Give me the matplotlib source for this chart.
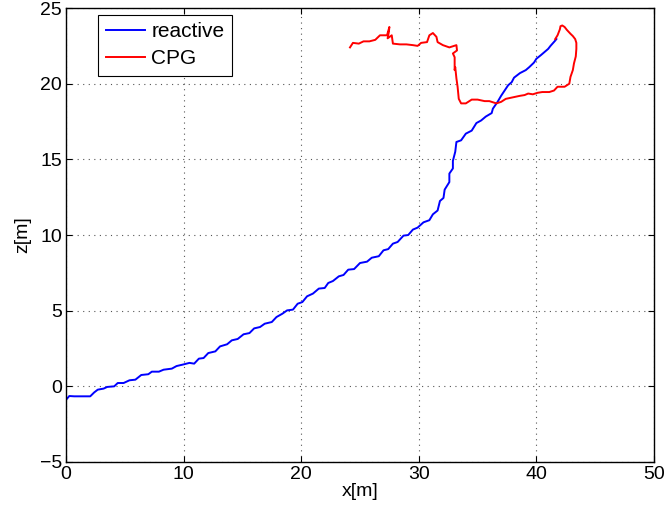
import matplotlib
matplotlib.use("Agg")
import matplotlib.pyplot as plt

# reactive controller trajectory (x, z in metres)
reactive_x = [0.08, 0.28, 0.7, 2.06, 2.4, 2.7, 3.2, 3.5, 4.1, 4.4, 4.9, 5.4, 5.9, 6.4, 7.0,
              7.3, 7.9, 8.3, 9.0, 9.4, 10.0, 10.5, 10.9, 11.3, 11.7, 12.1, 12.7, 13.1, 13.7,
              14.1, 14.6, 15.1, 15.6, 16.0, 16.5, 16.9, 17.5, 17.9, 18.4, 18.8, 19.3, 19.7,
              20.1, 20.5, 21.0, 21.5, 22.0, 22.3, 22.7, 23.2, 23.6, 24.0, 24.5, 25.0, 25.6,
              26.0, 26.6, 27.0, 27.4, 27.8, 28.2, 28.7, 29.1, 29.5, 29.9, 30.4, 30.9, 31.2,
              31.6, 31.8, 32.1, 32.2, 32.6, 32.6, 32.9, 32.9, 33.1, 33.2, 33.6, 34.0, 34.5,
              34.9, 35.3, 35.7, 36.2, 36.3, 36.7, 37.0, 37.3, 37.6, 37.9, 38.1, 38.6, 39.1,
              39.4, 39.8, 40.0, 40.4, 40.7, 41.0, 41.2, 41.6, 41.7]
reactive_z = [-0.82, -0.64, -0.66, -0.66, -0.4, -0.22, -0.15, -0.04, 0.0, 0.22, 0.22, 0.4,
              0.44, 0.75, 0.8, 0.97, 0.97, 1.1, 1.17, 1.34, 1.45, 1.55, 1.5, 1.83, 1.87, 2.2,
              2.31, 2.64, 2.78, 3.04, 3.13, 3.44, 3.52, 3.83, 3.92, 4.14, 4.25, 4.58, 4.8,
              5.02, 5.07, 5.46, 5.57, 5.95, 6.13, 6.46, 6.5, 6.83, 6.96, 7.27, 7.36, 7.71,
              7.75, 8.15, 8.24, 8.5, 8.6, 8.99, 9.07, 9.43, 9.54, 9.96, 10.0, 10.36, 10.49,
              10.84, 10.98, 11.37, 11.62, 12.25, 12.45, 13.0, 13.5, 14.06, 14.4, 14.9, 15.5,
              16.15, 16.26, 16.7, 16.9, 17.4, 17.57, 17.83, 18.06, 18.35, 18.8, 19.2, 19.55,
              19.9, 20.1, 20.4, 20.7, 20.9, 21.1, 21.4, 21.65, 21.9, 22.1, 22.3, 22.5, 22.85,
              22.95]

# CPG controller trajectory
cpg_x = [24.15, 24.4, 24.9, 25.3, 25.8, 26.3, 26.7, 27.3, 27.5, 27.45, 27.35, 27.7, 27.8,
         28.4, 28.95, 29.5, 29.9, 30.2, 30.7, 30.9, 31.2, 31.5, 31.6, 32.05, 32.6, 33.2,
         33.25, 32.9, 33.05, 33.05, 33.1, 33.2, 33.3, 33.4, 33.6, 34.0, 34.5, 35.0, 35.6,
         36.0, 36.6, 37.0, 37.4, 38.0, 38.6, 39.0, 39.3, 39.7, 40.1, 40.5, 41.1, 41.5,
         41.8, 42.4, 42.8, 42.9, 43.1, 43.2, 43.35, 43.4, 43.4, 43.3, 43.1, 42.9, 42.6,
         42.4, 42.2, 42.05, 42.0, 41.8, 41.6]
cpg_z = [22.4, 22.7, 22.65, 22.8, 22.8, 22.9, 23.2, 23.2, 23.75, 23.4, 23.0, 23.2, 22.65,
         22.6, 22.6, 22.55, 22.5, 22.7, 22.75, 23.2, 23.35, 23.1, 22.75, 22.55, 22.4, 22.55,
         22.2, 22.0, 21.75, 20.9, 21.1, 20.35, 19.8, 19.0, 18.7, 18.7, 18.95, 18.95, 18.85,
         18.85, 18.7, 18.8, 19.0, 19.1, 19.2, 19.25, 19.35, 19.3, 19.4, 19.45, 19.45, 19.55,
         19.8, 19.8, 20.0, 20.45, 20.9, 21.35, 21.8, 22.3, 22.7, 22.95, 23.15, 23.3, 23.55,
         23.75, 23.85, 23.8, 23.6, 23.2, 22.95]

x_ticks = [0, 10, 20, 30, 40, 50]
z_ticks = [-5, 0, 5, 10, 15, 20, 25]

plt.rcParams['font.family'] = ['Liberation Sans', 'DejaVu Sans']
plt.rcParams['axes.unicode_minus'] = True

fig = plt.figure(figsize=(6.68, 5.17), dpi=100)
ax = fig.add_axes([0.0988, 0.1064, 0.8802, 0.878])

ax.plot(reactive_x, reactive_z, color=(0, 0, 1), lw=1.4, label='reactive')
ax.plot(cpg_x, cpg_z, color=(1, 0, 0), lw=1.4, label='CPG')

ax.set_xlim(0, 50)
ax.set_ylim(-5, 25)
ax.set_xticks(x_ticks)
ax.set_yticks(z_ticks)
ax.tick_params(direction='in', length=4, width=0.8, labelsize=14,
               top=True, right=True, pad=3)
ax.grid(True, linestyle=(0, (1, 4)), color='#555555', lw=0.8)
for s in ax.spines.values():
    s.set_linewidth(1.0)

ax.set_xlabel('x[m]', fontsize=14, labelpad=0)
ax.set_ylabel('z[m]', fontsize=14, labelpad=6)

leg = ax.legend(loc='upper left', bbox_to_anchor=(0.055, 0.985), fontsize=15,
                fancybox=False, framealpha=1, edgecolor='black', borderpad=0.35,
                handlelength=1.9, handletextpad=0.3, labelspacing=0.4, borderaxespad=0)
leg.get_frame().set_linewidth(0.8)

fig.savefig('out.png', dpi=100)
